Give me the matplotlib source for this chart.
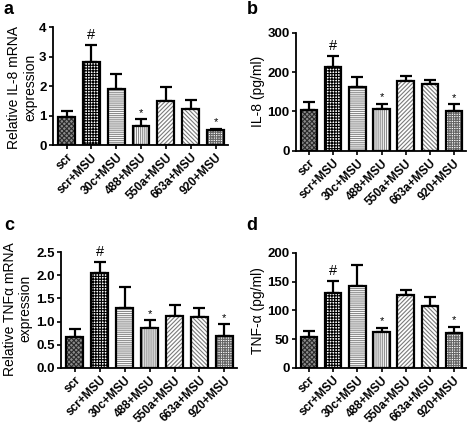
import matplotlib
matplotlib.use("Agg")
import matplotlib.pyplot as plt
import numpy as np

plt.rcParams['font.family'] = ['Liberation Sans', 'DejaVu Sans']
plt.rcParams['hatch.linewidth'] = 0.8

categories = ["scr", "scr+MSU", "30c+MSU", "488+MSU", "550a+MSU", "663a+MSU", "920+MSU"]

il8_mrna = [0.97, 2.83, 1.90, 0.66, 1.48, 1.24, 0.51]
il8_mrna_err = [0.19, 0.56, 0.52, 0.22, 0.48, 0.29, 0.05]

il8_prot = [103, 212, 162, 106, 178, 171, 102]
il8_prot_err = [21, 28, 25, 14, 11, 8, 17]

tnf_mrna = [0.66, 2.04, 1.29, 0.86, 1.12, 1.09, 0.70]
tnf_mrna_err = [0.17, 0.25, 0.45, 0.18, 0.24, 0.21, 0.24]

tnf_prot = [54, 131, 142, 63, 127, 107, 61]
tnf_prot_err = [10, 20, 37, 7, 8, 16, 11]

sig_marks = ["", "#", "", "*", "", "", "*"]

# (facecolor, hatchcolor, hatch)
styles = [("#8c8c8c", "#2a2a2a", "xxxxxxx"),
          ("white", "black", "++++++"),
          ("white", "#8a8a8a", "--------"),
          ("white", "#8a8a8a", "||||||||"),
          ("white", "#7a7a7a", "////////"),
          ("white", "#7a7a7a", "\\\\\\\\\\\\\\\\"),
          ("white", "#666666", "+++++++")]

fig = plt.figure(figsize=(4.72, 4.36), dpi=100)

panels = [
    ("a", [0.112, 0.667, 0.371, 0.271], il8_mrna, il8_mrna_err, "Relative IL-8 mRNA\nexpression", [0, 1, 2, 3, 4], "%d", (0.008, 0.998), (-0.09, 0.49)),
    ("b", [0.627, 0.654, 0.360, 0.271], il8_prot, il8_prot_err, "IL-8 (pg/ml)", [0, 100, 200, 300], "%d", (0.522, 0.998), (-0.18, 0.5)),
    ("c", [0.129, 0.156, 0.373, 0.266], tnf_mrna, tnf_mrna_err, "Relative TNFα mRNA\nexpression", [0, 0.5, 1.0, 1.5, 2.0, 2.5], "%.1f", (0.008, 0.502), (-0.16, 0.51)),
    ("d", [0.627, 0.156, 0.360, 0.264], tnf_prot, tnf_prot_err, "TNF-α (pg/ml)", [0, 50, 100, 150, 200], "%d", (0.522, 0.502), (-0.18, 0.5)),
]

x = np.arange(len(categories))
for letter, pos, vals, errs, ylabel, yticks, fmt, lpos, lcoords in panels:
    ax = fig.add_axes(pos)
    for i, (v, s) in enumerate(zip(vals, styles)):
        ax.bar(x[i], v, width=0.68, color=s[0], edgecolor=s[1], hatch=s[2], linewidth=0, zorder=2)
    ax.bar(x, vals, width=0.68, fill=False, edgecolor="black", linewidth=1.6, zorder=3)
    ax.errorbar(x, vals, yerr=[np.zeros(len(vals)), errs], fmt="none", ecolor="black",
                elinewidth=1.6, capsize=4, capthick=1.6, zorder=1)
    top = yticks[-1]
    for i, m in enumerate(sig_marks):
        if m:
            fs = 10.5 if m == "#" else 8
            off = 0.025 * top if m == "#" else 0.01 * top
            ax.text(x[i], vals[i] + errs[i] + off, m, ha="center", va="bottom", fontsize=fs)
    ax.set_xlim(-0.55, 6.5)
    ax.set_ylim(0, top)
    ax.set_yticks(yticks)
    ax.set_yticklabels([fmt % t for t in yticks], fontsize=9.5, fontweight="bold")
    ax.set_xticks(x)
    ax.set_xticklabels(categories, rotation=45, ha="right", rotation_mode="anchor",
                       fontsize=8.5, fontweight="bold")
    ax.set_ylabel(ylabel, fontsize=10)
    ax.yaxis.set_label_coords(*lcoords)
    for sp in ["top", "right"]:
        ax.spines[sp].set_visible(False)
    for sp in ["left", "bottom"]:
        ax.spines[sp].set_linewidth(1.3)
    ax.tick_params(axis="both", direction="out", length=3, width=1.2, pad=1.5)
    fig.text(lpos[0], lpos[1], letter, fontsize=13, fontweight="bold", ha="left", va="top")

fig.savefig("out.png", dpi=100)
